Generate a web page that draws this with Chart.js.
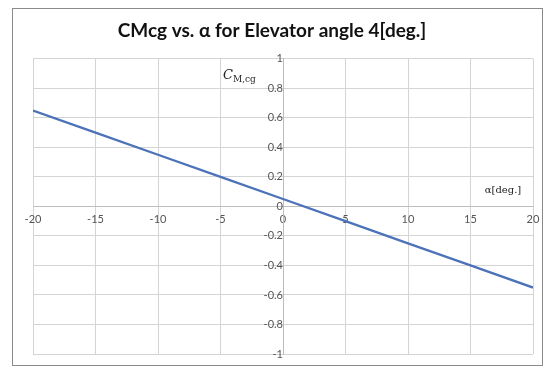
<!DOCTYPE html>
<html>
<head>
<meta charset="utf-8">
<script src="https://cdn.jsdelivr.net/npm/chart.js@4.4.1/dist/chart.umd.min.js"></script>
<style>
  html, body { margin: 0; padding: 0; background: #fff; }
  #wrap { position: relative; width: 547px; height: 367px; }
</style>
</head>
<body>
<div id="wrap"><canvas id="chart" width="547" height="367"></canvas></div>
<script>
// alpha [deg] and CMcg
const alphaDeg = [-20, -15, -10, -5, 0, 5, 10, 15, 20];
const cmcg = [0.65, 0.50, 0.35, 0.20, 0.05, -0.10, -0.25, -0.40, -0.55];
const xTicks = [-20, -15, -10, -5, 0, 5, 10, 15, 20];
const yTicks = [-1, -0.8, -0.6, -0.4, -0.2, 0, 0.2, 0.4, 0.6, 0.8, 1];
const chartTitle = 'CMcg vs. \u03b1 for Elevator angle 4[deg.]';

const frame = {
    id: 'frame',
    beforeDraw(chart) {
        const ctx = chart.ctx;
        ctx.save();
        ctx.fillStyle = '#fff';
        ctx.fillRect(0, 0, chart.width, chart.height);
        ctx.strokeStyle = '#8a8a8a';
        ctx.lineWidth = 1;
        ctx.strokeRect(12.5, 8.5, 530, 357);
        ctx.restore();
    },
    afterDraw(chart) {
        const ctx = chart.ctx, xs = chart.scales.x, ys = chart.scales.y;
        ctx.save();
        ctx.fillStyle = '#222';
        ctx.textBaseline = 'alphabetic';
        // C_M,cg label near the y axis
        let x0 = xs.getPixelForValue(-4.8), y0 = ys.getPixelForValue(0.86);
        ctx.font = 'italic 13px "DejaVu Serif"';
        ctx.fillText('C', x0, y0);
        const w = ctx.measureText('C').width;
        ctx.font = '9px "DejaVu Serif"';
        ctx.fillText('M,cg', x0 + w, y0 + 3);
        // alpha label near the x axis
        ctx.font = '10px "DejaVu Serif"';
        ctx.textAlign = 'center';
        ctx.fillText('\u03b1[deg.]', xs.getPixelForValue(17.6), ys.getPixelForValue(0.09));
        ctx.restore();
    }
};

new Chart(document.getElementById('chart'), {
    type: 'line',
    data: {
        datasets: [{
            data: alphaDeg.map((a, i) => ({ x: a, y: cmcg[i] })),
            borderColor: '#4c72b9',
            borderWidth: 2.3,
            pointRadius: 0,
            tension: 0
        }]
    },
    options: {
        responsive: false,
        animation: false,
        layout: { padding: { left: 11, right: 14, top: 0, bottom: 13 } },
        plugins: {
            legend: { display: false },
            tooltip: { enabled: false },
            title: {
                display: true,
                text: chartTitle,
                color: '#111',
                font: { family: 'Lato', size: 19, weight: 'bold' },
                padding: { top: 19, bottom: 17 }
            }
        },
        scales: {
            x: {
                type: 'linear',
                min: -20, max: 20,
                position: { y: 0 },
                afterBuildTicks: s => { s.ticks = xTicks.map(v => ({ value: v })); },
                grid: { color: '#d4d4d4', tickLength: 4 },
                border: { color: '#bdbdbd' },
                ticks: { color: '#555', font: { family: 'Lato', size: 11 }, padding: 2, maxRotation: 0 }
            },
            y: {
                type: 'linear',
                min: -1, max: 1,
                position: { x: 0 },
                afterBuildTicks: s => { s.ticks = yTicks.map(v => ({ value: v })); },
                grid: { color: '#d4d4d4', tickLength: 4 },
                border: { color: '#bdbdbd' },
                ticks: {
                    color: '#555', font: { family: 'Lato', size: 11 }, padding: 4,
                    callback: v => String(Math.round(v * 10) / 10)
                }
            },
            // empty spacer on the left so the plot sits where the original one does
            pad: {
                type: 'linear',
                axis: 'y',
                position: 'left',
                grid: { display: false },
                border: { display: false },
                ticks: { display: false },
                afterFit: s => { s.width = 22; }
            }
        }
    },
    plugins: [frame]
});
</script>
</body>
</html>
